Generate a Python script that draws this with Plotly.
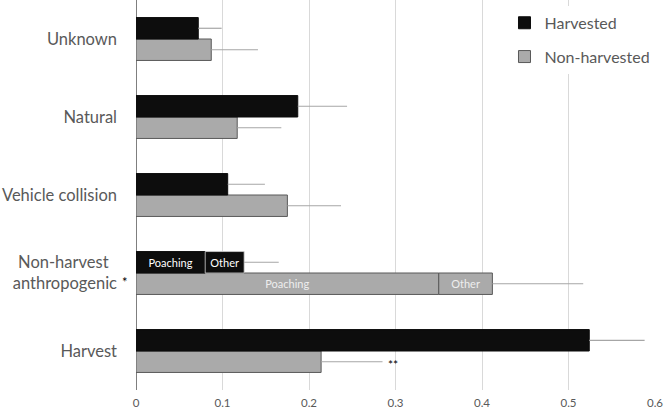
import plotly.graph_objects as go

categories = ["Harvest", "Non-harvest&nbsp;&nbsp;<br>anthropogenic", "Vehicle collision", "Natural", "Unknown"]

# mean proportions (Non-harvest anthropogenic value = poaching part only)
harvested = [0.524, 0.080, 0.106, 0.187, 0.072]
harvested_err = [0.064, 0, 0.043, 0.057, 0.027]
non_harvested = [0.214, 0.350, 0.175, 0.117, 0.087]
non_harvested_err = [0.071, 0, 0.062, 0.051, 0.054]

# "Other" part of non-harvest anthropogenic
harvested_other = [0.045]
harvested_other_err = [0.040]
non_harvested_other = [0.062]
non_harvested_other_err = [0.105]

seg_cat = [categories[1]]
harv_text = ["Poaching" if c == categories[1] else "" for c in categories]

FONT = "Lato"
GREY_TXT = "#595959"
ERR_COL = "#a6a6a6"

fig = go.Figure()

# non-harvested first so it sits below within each group
fig.add_trace(go.Bar(
    y=categories, x=non_harvested, orientation="h", name="Non-harvested",
    offsetgroup="n", legendgroup="n", legendrank=2,
    marker=dict(color="#aaaaaa", line=dict(color="#595959", width=1)),
    text=harv_text, textposition="inside", insidetextanchor="middle", textangle=0,
    insidetextfont=dict(color="#eeeeee", size=11, family=FONT),
    error_x=dict(type="data", symmetric=False, array=non_harvested_err,
                 arrayminus=[0] * 5, color=ERR_COL, thickness=1.2, width=0),
))
fig.add_trace(go.Bar(
    y=seg_cat, x=non_harvested_other, base=[non_harvested[1]], orientation="h",
    offsetgroup="n", showlegend=False,
    marker=dict(color="#aaaaaa", line=dict(color="#595959", width=1)),
    text=["Other"], textposition="inside", insidetextanchor="middle", textangle=0,
    insidetextfont=dict(color="#eeeeee", size=11, family=FONT),
    error_x=dict(type="data", symmetric=False, array=non_harvested_other_err,
                 arrayminus=[0], color=ERR_COL, thickness=1.2, width=0),
))
fig.add_trace(go.Bar(
    y=categories, x=harvested, orientation="h", name="Harvested",
    offsetgroup="h", legendgroup="h", legendrank=1,
    marker=dict(color="#0d0d0d", line=dict(color="#0d0d0d", width=1)),
    text=harv_text, textposition="inside", insidetextanchor="middle", textangle=0,
    insidetextfont=dict(color="white", size=11, family=FONT),
    error_x=dict(type="data", symmetric=False, array=harvested_err,
                 arrayminus=[0] * 5, color=ERR_COL, thickness=1.2, width=0),
))
fig.add_trace(go.Bar(
    y=seg_cat, x=harvested_other, base=[harvested[1]], orientation="h",
    offsetgroup="h", showlegend=False,
    marker=dict(color="#0d0d0d", line=dict(color="#cfcfcf", width=0.8)),
    text=["Other"], textposition="inside", insidetextanchor="middle", textangle=0,
    insidetextfont=dict(color="white", size=11, family=FONT),
    error_x=dict(type="data", symmetric=False, array=harvested_other_err,
                 arrayminus=[0], color=ERR_COL, thickness=1.2, width=0),
))

# significance marks
fig.add_annotation(x=0, y=categories[1], xref="x", yref="y", text="*",
                   showarrow=False, xshift=-11, yshift=-9,
                   font=dict(family=FONT, size=13, color="black"))
fig.add_annotation(x=non_harvested[0] + non_harvested_err[0], y=categories[0],
                   xref="x", yref="y", text="**", showarrow=False,
                   xanchor="left", xshift=3, yshift=-13,
                   font=dict(family=FONT, size=12, color="black"))

fig.update_layout(
    width=664, height=411,
    margin=dict(l=136, r=9, t=0, b=21),
    plot_bgcolor="white", paper_bgcolor="white",
    barmode="group", bargap=0.45, bargroupgap=0,
    font=dict(family=FONT, color=GREY_TXT),
    legend=dict(x=0.71, y=0.985, xanchor="left", yanchor="top",
                bgcolor="white", font=dict(size=16, color=GREY_TXT),
                traceorder="grouped", tracegroupgap=10, itemwidth=30),
)
fig.update_xaxes(range=[0, 0.6], dtick=0.1, showgrid=True, gridcolor="#d9d9d9",
                 zeroline=True, zerolinecolor="#7f7f7f", zerolinewidth=1,
                 tickfont=dict(size=11.5, color=GREY_TXT), ticks="",
                 ticklabelstandoff=4, automargin=False)
fig.update_yaxes(categoryorder="array", categoryarray=categories,
                 tickfont=dict(size=16.5, color=GREY_TXT), ticks="",
                 ticklabelstandoff=18, automargin=False)

fig.write_html("out.html", config={"displayModeBar": False},
               post_script="document.body.style.margin='0';")
